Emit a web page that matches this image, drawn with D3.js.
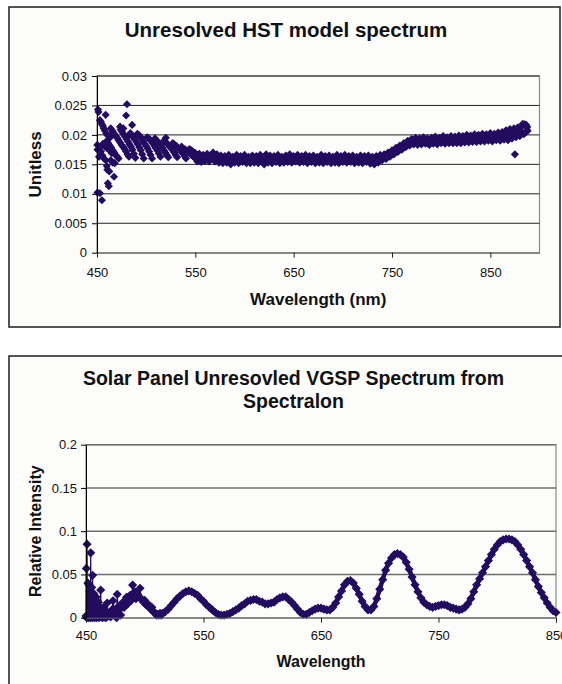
<!DOCTYPE html>
<html>
<head>
<meta charset="utf-8">
<script src="https://cdn.jsdelivr.net/npm/d3@7"></script>
<style>
  body { margin: 0; background: #fff; }
  svg text { font-family: "Liberation Sans", Arial, sans-serif; fill: #111; }
</style>
</head>
<body>
<div id="chart"></div>
<script>
/* ---- data ---- */

// top chart: Unresolved HST model spectrum, [wavelength nm, unitless]
const hstEdge = [
  [450.3,.0183],[450.5,.0175],[450.5,.0102],[451,.0243],[451.5,.0239],[452,.0163],[452.5,.0178],
  [453,.0225],[453,.0101],[454,.0222],[454,.0172],[455,.0218],[455,.0089],[455.5,.0165],[456,.0215],
  [456,.0185],[457,.0211],[457,.016],[458,.0207],[458,.018],[458.8,.0234],[459,.0157],[459.5,.0202],
  [460,.0147],[460,.0178],[460.5,.0141],[461,.0199],[461,.0118],[462,.0113],[462,.0175],[462.5,.0138],
  [463,.0195],[464,.0157],[464,.0211],[465,.0169],[465.6,.0203],[466,.0153],[467.3,.0129],[468,.0152],
  [473.4,.0214],[476.8,.0211],[479.6,.0233],[480.5,.0252],[482.4,.02],[485.7,.0217],[520,.0195]
];
const hstRipples = [
  [460,.019],[461.5,.0186],[463,.0182],[464.5,.0178],[466,.0174],[467.5,.017],[469,.0166],[470.5,.0163],[472,.016],
  [466,.0206],[467.5,.0202],[469,.0198],[470.5,.0195],[472,.0191],[473.5,.0187],[475,.0183],[476.5,.018],[478,.0176],[479.5,.0172],[481,.0167],[482.5,.0163],
  [474,.0209],[475.5,.0205],[477,.0201],[478.5,.0197],[480,.0193],[481.5,.0189],[483,.0184],[484.5,.018],[486,.0175],[487.5,.0168],[489,.0161],
  [484,.0203],[485.5,.0199],[487,.0196],[488.5,.0192],[490,.0188],[491.5,.0184],[493,.0179],[494.5,.0174],[496,.0167],[497.5,.016],
  [491,.0202],[492.5,.02],[494,.0197],[495.5,.0193],[497,.0189],[498.5,.0185],[500,.0181],[501.5,.0177],[503,.0172],[504.5,.0166],[506,.016],
  [501,.0196],[502.5,.0194],[504,.0192],[505.5,.0189],[507,.0185],[508.5,.0181],[510,.0177],[511.5,.0173],[513,.0168],[514.5,.0163],
  [509,.0194],[510.5,.0191],[512,.0188],[513.5,.0185],[515,.0182],[516.5,.0178],[518,.0174],[519.5,.017],[521,.0166],[522.5,.0162],
  [518,.019],[519.5,.0188],[521,.0186],[522.5,.0183],[524,.018],[525.5,.0177],[527,.0174],[528.5,.017],[530,.0166],[531.5,.0162],
  [527,.0186],[528.5,.0184],[530,.0182],[531.5,.018],[533,.0177],[534.5,.0174],[536,.0171],[537.5,.0168],[539,.0164],[540.5,.016],
  [536,.018],[538,.0177],[540,.0175],[542,.0172],[544,.0169],[546,.0166],[548,.0163],[550,.016],
  [544,.0176],[546,.0174],[548,.0171],[550,.0169],[552,.0166],[554,.0163],[556,.016],[558,.0157]
];
// flat stretch: upper and lower edge of the band, then its middle
const hstFlat = [
  [552,.0155],[554,.0168],[556,.0154],[558,.0166],[560,.0156],[562,.0168],[564,.0155],[566,.0165],[568,.017],[570,.0155],
  [572,.0167],[574,.0153],[576,.0165],[578,.0152],[580,.0164],[582,.0153],[584,.0166],[586,.015],[588,.0163],[590,.0153],
  [592,.0166],[594,.0152],[596,.0164],[598,.0154],[600,.0166],[602,.0152],[604,.0163],[606,.0152],[608,.0165],[610,.0153],
  [612,.0164],[614,.0152],[616,.0166],[618,.0154],[620,.015],[622,.0167],[624,.0153],[626,.0165],[628,.0152],[630,.0164],
  [632,.0154],[634,.0166],[636,.0152],[638,.0163],[640,.0153],[642,.0165],[644,.0154],[646,.0167],[648,.0153],[650,.0164],
  [652,.0155],[654,.0166],[656,.0153],[658,.0164],[660,.0154],[662,.0166],[664,.0152],[666,.0164],[668,.0154],[670,.0165],
  [672,.0152],[674,.0163],[676,.0153],[678,.0166],[680,.0152],[682,.0164],[684,.0154],[686,.0165],[688,.0152],[690,.0163],
  [692,.0153],[694,.0166],[696,.0152],[698,.0164],[700,.0154],[702,.0166],[704,.0153],[706,.0164],[708,.0154],[710,.0165],
  [712,.0152],[714,.0163],[716,.0153],[718,.0165],[720,.0152],[722,.0164],[724,.0154],[726,.0165],[728,.0151],[730,.0163],
  [732,.015],[734,.0164],[736,.0153],[738,.0166],[740,.0157]
];
const hstFlatMid = [
  [553,.0161],[555,.016],[557,.0161],[559,.0161],[561,.0162],[563,.0161],[565,.016],[567,.0162],[569,.0162],[571,.0161],
  [573,.016],[575,.0159],[577,.0159],[579,.0158],[581,.0159],[583,.0159],[585,.0158],[587,.0157],[589,.0158],[591,.0159],
  [593,.0159],[595,.0158],[597,.0159],[599,.016],[601,.0159],[603,.0158],[605,.0157],[607,.0158],[609,.0159],[611,.0158],
  [613,.0159],[615,.0159],[617,.016],[619,.0158],[621,.0158],[623,.016],[625,.0159],[627,.0158],[629,.0158],[631,.0159],
  [633,.016],[635,.0159],[637,.0158],[639,.0158],[641,.0159],[643,.016],[645,.016],[647,.0161],[649,.0159],[651,.0159],
  [653,.016],[655,.016],[657,.0159],[659,.0159],[661,.016],[663,.0159],[665,.0158],[667,.0159],[669,.016],[671,.0159],
  [673,.0158],[675,.0158],[677,.0159],[679,.0159],[681,.0158],[683,.0159],[685,.016],[687,.0159],[689,.0158],[691,.0158],
  [693,.0159],[695,.0159],[697,.0158],[699,.0159],[701,.016],[703,.016],[705,.0159],[707,.0159],[709,.016],[711,.0159],
  [713,.0158],[715,.0158],[717,.0159],[719,.0159],[721,.0158],[723,.0159],[725,.016],[727,.0158],[729,.0157],[731,.0157],
  [733,.0157],[735,.0158],[737,.016],[739,.0161]
];
const hstRise = [
  [742,.0167],[744,.0159],[746,.017],[748,.0163],[750,.0174],[752,.0167],[754,.0178],[756,.0171],
  [758,.0182],[760,.0175],[762,.0186],[764,.0179],[766,.019],[768,.0182],[770,.0193],[772,.0184],
  [741,.0162],[743,.0163],[745,.0164],[747,.0166],[749,.0168],[751,.017],[753,.0172],[755,.0174],[757,.0176],
  [759,.0178],[761,.018],[763,.0182],[765,.0184],[767,.0186],[769,.0187],[771,.0188],[773,.0189]
];
const hstRed = [
  [774,.0195],[776,.0183],[778,.0194],[780,.0184],[782,.0196],[784,.0185],[786,.0194],[788,.0183],[790,.0195],[792,.0185],
  [794,.0197],[796,.0184],[798,.0195],[800,.0186],[802,.0198],[804,.0185],[806,.0196],[808,.0186],[810,.0198],[812,.0186],
  [814,.0197],[816,.0186],[818,.0199],[820,.0186],[822,.0198],[824,.0187],[826,.02],[828,.0187],[830,.0199],[832,.0188],
  [834,.0201],[836,.0188],[838,.02],[840,.0189],[842,.0202],[844,.0189],[846,.0201],[848,.019],[850,.0203],[852,.0189],
  [854,.0202],[856,.0191],[858,.0204],[860,.019],[862,.0205],[864,.0192],[866,.0208],[868,.0191],[870,.021],[872,.0194],
  [874,.0211],[875,.0167],[876,.0196],[878,.0213],[880,.0198],[882,.0215],[883,.0219],[884,.0201],[885,.0218],[886,.0204],
  [886.5,.0217],[887,.0212],[888,.0207]
];
const hstRedMid = [
  [775,.0189],[777,.0189],[779,.0189],[781,.019],[783,.019],[785,.019],[787,.0189],[789,.0189],[791,.019],[793,.0191],
  [795,.0191],[797,.019],[799,.0191],[801,.0192],[803,.0192],[805,.0191],[807,.0191],[809,.0192],[811,.0192],[813,.0192],
  [815,.0192],[817,.0193],[819,.0193],[821,.0192],[823,.0193],[825,.0194],[827,.0194],[829,.0193],[831,.0194],[833,.0195],
  [835,.0195],[837,.0194],[839,.0195],[841,.0196],[843,.0196],[845,.0195],[847,.0196],[849,.0197],[851,.0197],[853,.0196],
  [855,.0197],[857,.0198],[859,.0198],[861,.0198],[863,.0199],[865,.02],[867,.02],[869,.0201],[871,.0202],[873,.0203],
  [877,.0205],[879,.0206],[881,.0207],[887.5,.0214]
];

const hstXTicks = [450, 550, 650, 750, 850];
const hstYTicks = [0, 0.005, 0.01, 0.015, 0.02, 0.025, 0.03];
const hstYLabels = ["0", "0.005", "0.01", "0.015", "0.02", "0.025", "0.03"];

// bottom chart: Solar Panel VGSP spectrum, [wavelength, relative intensity], drawn in order
const vgspNoisy = [
  [450,.002],[450.3,.057],[450.6,0],[450.9,.085],[451.2,.003],[451.6,.04],[452,0],[452.4,.038],[452.8,.002],
  [453.2,.03],[453.6,0],[454,.075],[454.4,.004],[454.8,.035],[455.2,0],[455.6,.049],[456,.002],[456.5,.028],
  [457,0],[457.5,.02],[458,.001],[458.5,.024],[459,0],[459.5,.015],[460,.002],[460.5,.018],[461,0],[461.5,.012],
  [462,.003],[462.5,.032],[463,.001],[463.5,.01],[464,0],[465,.012],[465.5,.001],[466,.008],[467,0],[468,.017],
  [469,.002],[470,.006],[471,.001],[472,.009],[473,.0196],[474,.003],[475,.01],[476,0],[476.6,.027],[477.5,.005],
  [478.5,.014],[479.5,.003],[480.5,.012],[481.5,.018],[482.5,.012],[483.5,.02],[484.5,.0235],[485.5,.016],
  [486.5,.022],[487.5,.026],[488.5,.02],[489.7,.0377],[490.6,.025],[491.6,.03],[492.5,.022],[493.5,.028],
  [494.5,.025],[496,.034],[497,.022],[498,.02],[499,.018],[500,.02],[501,.015],[502,.016],[503,.013],[504,.014],
  [505,.01],[506,.012],[507,.008],[508,.006],[509,.005],[510,.003],[511,.004],[512,.003],[513,.005],[514,.003]
];
const vgspSmooth = [
  [515,.005],[517.5,.007],[520,.01],[522.5,.014],[525,.018],[527.5,.022],[530,.025],[532.5,.028],[535,.03],[537.5,.031],
  [540,.03],[542.5,.028],[545,.026],[547.5,.022],[550,.019],[552.5,.015],[555,.012],[557.5,.009],[560,.006],[562.5,.004],
  [565,.003],[567.5,.003],[570,.004],[572.5,.005],[575,.007],[577.5,.009],[580,.011],[582.5,.014],[585,.016],[587.5,.019],
  [590,.02],[592.5,.021],[595,.021],[597.5,.019],[600,.018],[602.5,.016],[605,.016],[607.5,.017],[610,.018],[612.5,.021],
  [615,.023],[617.5,.024],[620,.024],[622.5,.021],[625,.018],[627.5,.014],[630,.01],[632.5,.006],[635,.004],[637.5,.004],
  [640,.006],[642.5,.008],[645,.01],[647.5,.011],[650,.011],[652.5,.01],[655,.009],[657.5,.009],[660,.012],[662.5,.017],
  [665,.024],[667.5,.031],[670,.038],[672.5,.042],[675,.043],[677.5,.04],[680,.034],[682.5,.027],[685,.019],[687.5,.013],
  [690,.009],[692.5,.009],[695,.013],[697.5,.022],[700,.033],[702.5,.044],[705,.055],[707.5,.063],[710,.069],[712.5,.073],
  [715,.074],[717.5,.073],[720,.07],[722.5,.064],[725,.056],[727.5,.047],[730,.038],[732.5,.03],[735,.023],[737.5,.018],
  [740,.015],[742.5,.013],[745,.012],[747.5,.013],[750,.014],[752.5,.015],[755,.015],[757.5,.014],[760,.012],[762.5,.011],
  [765,.01],[767.5,.009],[770,.01],[772.5,.012],[775,.016],[777.5,.022],[780,.03],[782.5,.038],[785,.045],[787.5,.052],
  [790,.059],[792.5,.066],[795,.073],[797.5,.079],[800,.084],[802.5,.088],[805,.09],[807.5,.091],[810,.091],[812.5,.09],
  [815,.088],[817.5,.084],[820,.079],[822.5,.073],[825,.066],[827.5,.059],[830,.052],[832.5,.044],[835,.036],[837.5,.029],
  [840,.023],[842.5,.017],[845,.012],[847.5,.008],[850,.006]
];

const vgspXTicks = [450, 550, 650, 750, 850];
const vgspYTicks = [0, 0.05, 0.1, 0.15, 0.2];
const vgspYLabels = ["0", "0.05", "0.1", "0.15", "0.2"];

const markerColor = "#230c5f";

let svg = d3.select('#chart').append('svg')
    .attr("width", 562)
    .attr("height", 684);

function drawChart(c) {
    let g = svg.append("g");

    // chart area frame
    g.append("rect")
        .attr("x", c.box[0]).attr("y", c.box[1])
        .attr("width", c.box[2]).attr("height", c.box[3])
        .attr("fill", "#fcfcfb")
        .attr("stroke", "#2a2a2a")
        .attr("stroke-width", 1.6);

    let x = d3.scaleLinear().domain(c.xDomain).range([c.plot[0], c.plot[1]]);
    let y = d3.scaleLinear().domain(c.yDomain).range([c.plot[3], c.plot[2]]);

    // plot area border
    g.append("rect")
        .attr("x", c.plot[0]).attr("y", c.plot[2])
        .attr("width", c.plot[1] - c.plot[0]).attr("height", c.plot[3] - c.plot[2])
        .attr("fill", "none")
        .attr("stroke", "#8a8a8a")
        .attr("stroke-width", 1.2);

    // horizontal gridlines
    c.yTicks.slice(1).forEach(t =>
        g.append("line")
            .attr("x1", c.plot[0]).attr("x2", c.plot[1])
            .attr("y1", y(t)).attr("y2", y(t))
            .attr("stroke", c.gridColor)
            .attr("stroke-width", c.gridWidth)
    );

    // series: thin connecting line, a heavier trace where the markers run together
    let line = d3.line().x(d => x(d[0])).y(d => y(d[1]));
    if (c.line) {
        g.append("path")
            .datum(c.points)
            .attr("d", line)
            .attr("fill", "none")
            .attr("stroke", markerColor)
            .attr("stroke-width", 1.2);
    }
    if (c.heavy) {
        g.append("path")
            .datum(c.heavy)
            .attr("d", line)
            .attr("fill", "none")
            .attr("stroke", markerColor)
            .attr("stroke-width", 4.5)
            .attr("stroke-linejoin", "round");
    }
    let diamond = d3.symbol().type(d3.symbolSquare).size(c.markerSize);
    g.append("g").selectAll("path")
        .data(c.points)
        .join("path")
        .attr("d", diamond)
        .attr("transform", d => "translate(" + x(d[0]) + "," + y(d[1]) + ") rotate(45)")
        .attr("fill", markerColor);

    // x axis
    let xAxis = g.append("g")
        .attr("transform", "translate(0," + c.plot[3] + ")")
        .call(d3.axisBottom(x).tickValues(c.xTicks).tickFormat(d3.format("d"))
            .tickSize(5).tickSizeOuter(0).tickPadding(c.xPad));
    xAxis.select(".domain").attr("stroke", "#666");
    xAxis.selectAll(".tick line").attr("stroke", "#222");

    // y axis
    let yAxis = g.append("g")
        .attr("transform", "translate(" + c.plot[0] + ",0)")
        .call(d3.axisLeft(y).tickValues(c.yTicks).tickFormat((d, i) => c.yLabels[i])
            .tickSize(5).tickSizeOuter(0).tickPadding(c.yPad));
    yAxis.select(".domain").attr("stroke", "#000");
    yAxis.selectAll(".tick line").attr("stroke", "#000");

    g.selectAll(".tick text")
        .attr("font-size", 13)
        .attr("font-family", "Liberation Sans, Arial, sans-serif")
        .attr("fill", "#111");

    // titles
    c.title.forEach((t, i) =>
        g.append("text")
            .attr("x", c.titlePos[0])
            .attr("y", c.titlePos[1] + i * 23)
            .attr("text-anchor", "middle")
            .attr("font-size", c.titleSize)
            .attr("font-weight", "bold")
            .text(t)
    );

    g.append("text")
        .attr("x", (c.plot[0] + c.plot[1]) / 2)
        .attr("y", c.xLabelY)
        .attr("text-anchor", "middle")
        .attr("font-size", c.labelSize)
        .attr("font-weight", "bold")
        .text(c.xLabel);

    g.append("text")
        .attr("transform", "translate(" + c.yLabelX + "," + (c.plot[2] + c.plot[3]) / 2 + ") rotate(-90)")
        .attr("text-anchor", "middle")
        .attr("font-size", c.labelSize)
        .attr("font-weight", "bold")
        .text(c.yLabel);
}

drawChart({
    box: [9, 7, 551, 320],
    plot: [97, 539.5, 76, 252.7],
    xDomain: [450, 900], yDomain: [0, 0.03],
    xTicks: hstXTicks, yTicks: hstYTicks, yLabels: hstYLabels,
    xPad: 10.5, yPad: 5,
    points: hstEdge.concat(hstRipples, hstFlat, hstFlatMid, hstRise, hstRed, hstRedMid),
    line: false, markerSize: 33,
    gridColor: "#222", gridWidth: 1,
    title: ["Unresolved HST model spectrum"], titlePos: [286, 37], titleSize: 20.5,
    xLabel: "Wavelength (nm)", xLabelY: 305,
    yLabel: "Unitless", yLabelX: 41, labelSize: 17
});

drawChart({
    box: [9, 356, 570, 340],
    plot: [86, 556, 444.7, 617.7],
    xDomain: [450, 850], yDomain: [0, 0.2],
    xTicks: vgspXTicks, yTicks: vgspYTicks, yLabels: vgspYLabels,
    xPad: 8, yPad: 4,
    points: vgspNoisy.concat(vgspSmooth),
    heavy: vgspSmooth,
    line: true, markerSize: 42,
    gridColor: "#6e6e6e", gridWidth: 1.6,
    title: ["Solar Panel Unresovled VGSP Spectrum from", "Spectralon"], titlePos: [293.5, 385], titleSize: 19.5,
    xLabel: "Wavelength", xLabelY: 667,
    yLabel: "Relative Intensity", yLabelX: 41, labelSize: 16
});
</script>
</body>
</html>
